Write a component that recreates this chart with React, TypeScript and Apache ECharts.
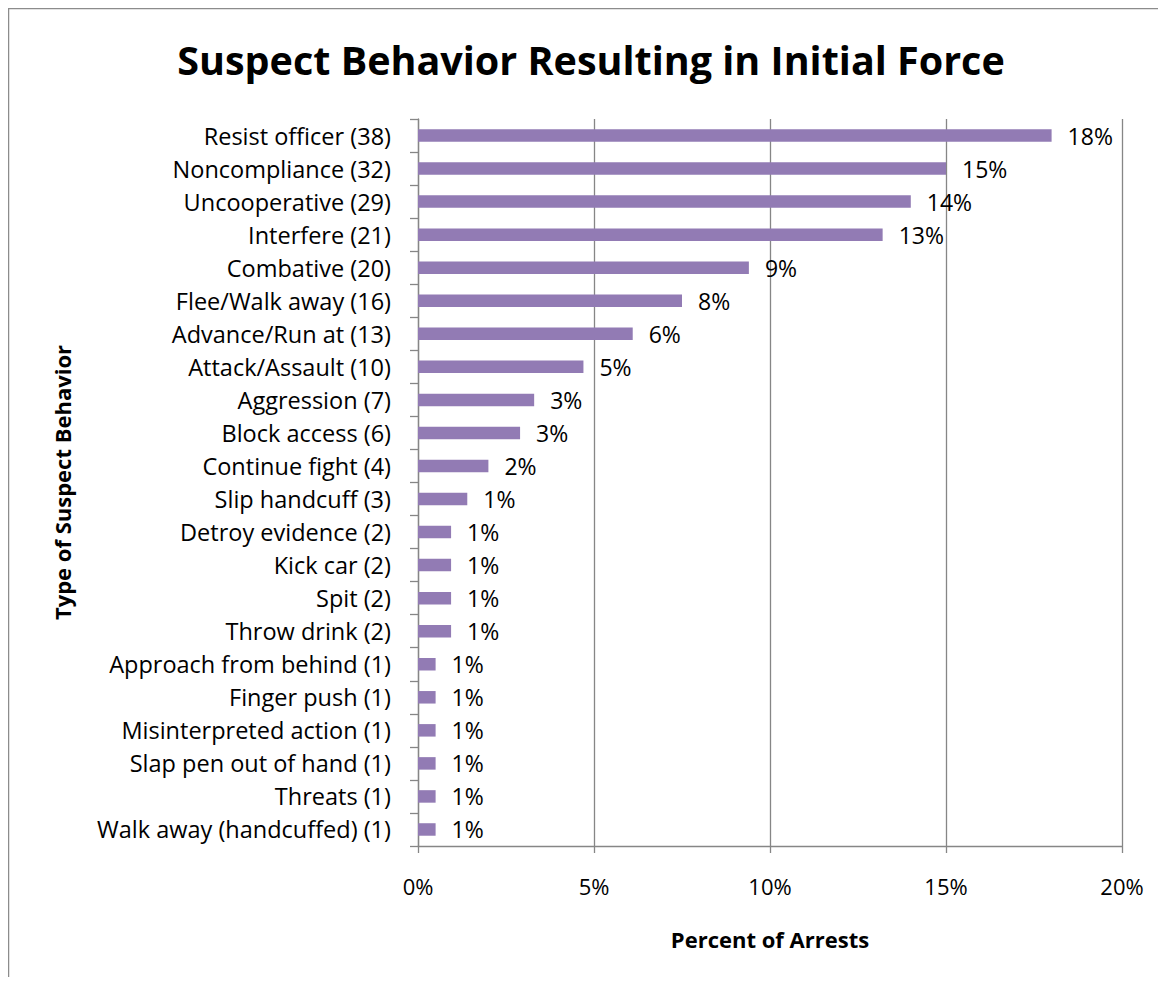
import React, { useEffect, useRef } from "react";
import * as echarts from "echarts";

const categories = [
  "Resist officer (38)",
  "Noncompliance (32)",
  "Uncooperative (29)",
  "Interfere (21)",
  "Combative (20)",
  "Flee/Walk away (16)",
  "Advance/Run at (13)",
  "Attack/Assault (10)",
  "Aggression (7)",
  "Block access (6)",
  "Continue fight (4)",
  "Slip handcuff (3)",
  "Detroy evidence (2)",
  "Kick car (2)",
  "Spit (2)",
  "Throw drink (2)",
  "Approach from behind (1)",
  "Finger push (1)",
  "Misinterpreted action (1)",
  "Slap pen out of hand (1)",
  "Threats (1)",
  "Walk away (handcuffed) (1)",
];

const percentValues = [
  18.0, 15.0, 14.0, 13.2, 9.4, 7.5, 6.1, 4.7, 3.3, 2.9, 2.0, 1.4, 0.94, 0.94,
  0.94, 0.94, 0.5, 0.5, 0.5, 0.5, 0.5, 0.5,
];

const xTicks = [0, 5, 10, 15, 20];

const FONT = "Open Sans";

export default function App() {
  const ref = useRef<HTMLDivElement>(null);
  useEffect(() => {
    if (!ref.current) return;
    const chart = echarts.init(ref.current, null, { renderer: "svg" });
    chart.setOption({
      animation: false,
      backgroundColor: "#ffffff",
      textStyle: { fontFamily: FONT },
      title: {
        text: "Suspect Behavior Resulting in Initial Force",
        left: 578,
        top: 27,
        textAlign: "center",
        textStyle: {
          fontFamily: FONT,
          fontSize: 39.5,
          fontWeight: "bold",
          color: "#000",
        },
      },
      graphic: [
        {
          type: "rect",
          shape: { x: 0.5, y: 0.5, width: 1400, height: 1400 },
          style: { fill: "none", stroke: "#8c8c8c", lineWidth: 1.5 },
          silent: true,
        },
      ],
      grid: { left: 410, top: 111, right: 36, bottom: 131, containLabel: false },
      xAxis: {
        type: "value",
        min: xTicks[0],
        max: xTicks[xTicks.length - 1],
        interval: 5,
        name: "Percent of Arrests",
        nameLocation: "middle",
        nameGap: 82,
        nameTextStyle: {
          fontFamily: FONT,
          fontSize: 22,
          fontWeight: "bold",
          color: "#000",
        },
        axisLine: { show: true, lineStyle: { color: "#868686", width: 1.3 } },
        axisTick: { show: true, length: 7, lineStyle: { color: "#868686", width: 1.3 } },
        axisLabel: {
          margin: 29,
          fontSize: 22,
          color: "#000",
          fontFamily: FONT,
          formatter: (v: number) => `${v}%`,
        },
        splitLine: { show: true, lineStyle: { color: "#868686", width: 1.3 } },
      },
      yAxis: {
        type: "category",
        data: categories,
        inverse: true,
        name: "Type of Suspect Behavior",
        nameLocation: "middle",
        nameGap: 345,
        nameTextStyle: {
          fontFamily: FONT,
          fontSize: 22,
          fontWeight: "bold",
          color: "#000",
        },
        axisLine: { show: true, lineStyle: { color: "#868686", width: 1.3 } },
        axisTick: {
          show: true,
          length: 8,
          alignWithLabel: false,
          lineStyle: { color: "#868686", width: 1.3 },
        },
        axisLabel: {
          margin: 27,
          fontSize: 23.5,
          color: "#000",
          fontFamily: FONT,
          interval: 0,
        },
        splitLine: { show: false },
      },
      series: [
        {
          type: "bar",
          data: percentValues,
          barWidth: 12.5,
          itemStyle: { color: "#927bb4" },
          label: {
            show: true,
            position: "right",
            distance: 16,
            fontSize: 23,
            color: "#000",
            fontFamily: FONT,
            formatter: (p: any) => `${Math.round(p.value)}%`,
          },
        },
      ],
    });
    return () => chart.dispose();
  }, []);
  return <div ref={ref} style={{ width: 1150, height: 969 }} />;
}
